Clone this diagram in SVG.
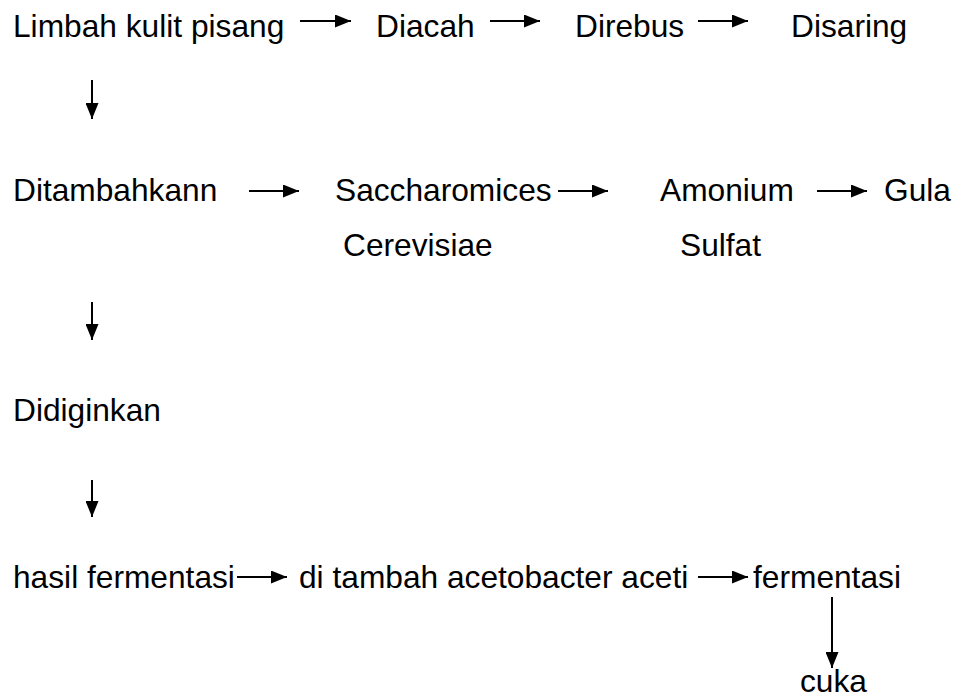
<svg xmlns="http://www.w3.org/2000/svg" width="958" height="700" viewBox="0 0 958 700">
<defs>
<style>
text{font-family:"Liberation Sans",Arial,sans-serif;font-size:31.7px;fill:#000}
.c line{stroke:#000;stroke-width:2;marker-end:url(#ah)}
</style>
<marker id="ah" viewBox="0 0 16 13" refX="16" refY="6.5" markerWidth="16" markerHeight="13" markerUnits="userSpaceOnUse" orient="auto">
<path d="M0,0 L16,6.5 L0,13 Z" fill="#000"/>
</marker>
</defs>
<rect width="958" height="700" fill="#fff"/>
<g id="n1"><text x="13" y="37">Limbah kulit pisang</text></g>
<g id="n2"><text x="376" y="37">Diacah</text></g>
<g id="n3"><text x="575" y="37">Direbus</text></g>
<g id="n4"><text x="791" y="37">Disaring</text></g>
<g id="n5"><text x="13" y="201">Ditambahkann</text></g>
<g id="n6"><text x="335" y="201">Saccharomices</text><text x="343" y="256">Cerevisiae</text></g>
<g id="n7"><text x="660" y="201">Amonium</text><text x="680" y="256">Sulfat</text></g>
<g id="n8"><text x="884" y="201">Gula</text></g>
<g id="n9"><text x="13" y="421">Didiginkan</text></g>
<g id="n10"><text x="13" y="588">hasil fermentasi</text></g>
<g id="n11"><text x="299" y="588">di tambah acetobacter aceti</text></g>
<g id="n12"><text x="753" y="588">fermentasi</text></g>
<g id="n13"><text x="800" y="692">cuka</text></g>
<g id="connectors" class="c">
<line x1="300" y1="21" x2="351" y2="21"/>
<line x1="490" y1="21" x2="540" y2="21"/>
<line x1="698" y1="21" x2="748" y2="21"/>
<line x1="92" y1="80" x2="92" y2="119"/>
<line x1="249" y1="191" x2="299" y2="191"/>
<line x1="558" y1="191" x2="608" y2="191"/>
<line x1="817" y1="191" x2="867" y2="191"/>
<line x1="92" y1="302" x2="92" y2="340"/>
<line x1="92" y1="480" x2="92" y2="517"/>
<line x1="237" y1="577" x2="287" y2="577"/>
<line x1="698" y1="577" x2="748" y2="577"/>
<line x1="832" y1="597" x2="832" y2="668"/>
</g>
</svg>
